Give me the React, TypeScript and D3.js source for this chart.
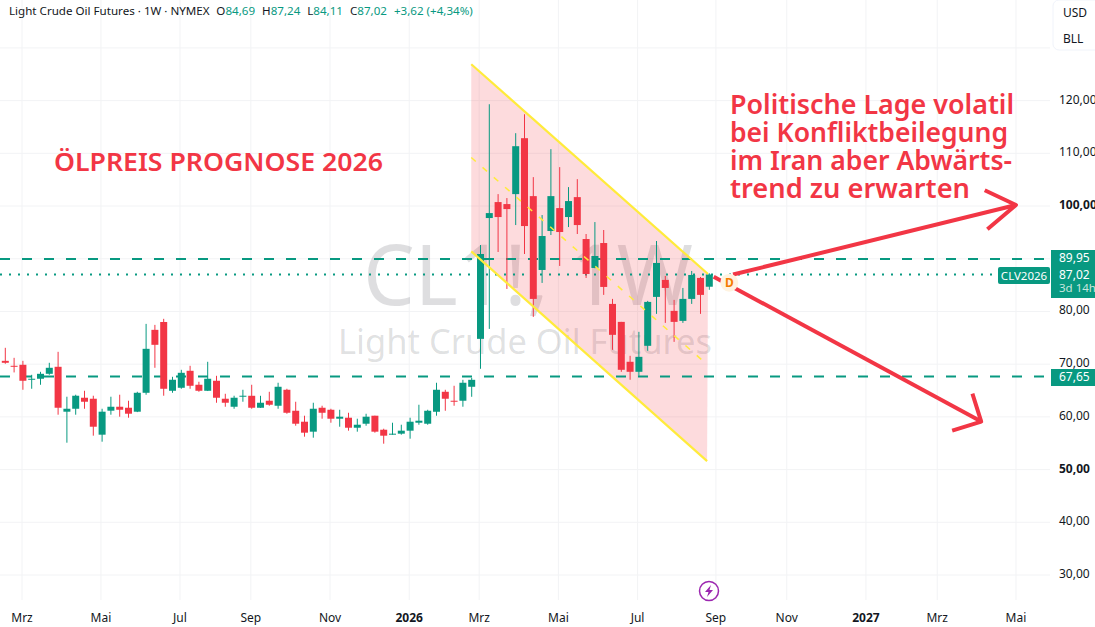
import React from "react";
import * as d3 from "d3";

const W = 1095, H = 627;
const FONT = "'Noto Sans', sans-serif";

// weekly candles, index 0 .. 80
const opens = [70.63,69.69,69.88,67.04,67.23,68.17,69.5,60.98,61.54,63.63,63.44,56.62,61.17,61.92,61.73,60.98,64.57,76.51,78.0,64.95,65.52,68.74,66.09,64.95,66.85,63.44,61.92,63.82,64.0,61.73,63.06,62.11,65.14,61.16,59.08,57.19,61.73,61.35,59.65,59.84,57.94,58.7,60.22,57.56,56.62,56.81,57.38,58.89,58.7,60.97,64.76,63.06,63.06,65.71,74.8,97.72,100.75,100.37,102.26,112.87,101.88,87.87,95.26,99.61,97.91,101.69,93.74,88.25,92.98,81.43,78.02,70.45,68.55,73.48,82.76,85.98,80.11,78.21,82.38,86.36,84.69];
const highs = [73.1,71.2,70.63,67.98,68.55,70.26,72.34,63.82,64.2,64.95,64.01,61.54,63.82,64.2,63.06,64.76,77.64,77.45,78.6,67.6,68.93,69.69,66.66,70.45,67.79,64.38,64.01,65.14,66.09,64.0,64.76,66.47,65.33,62.87,60.22,62.68,62.11,61.54,61.35,60.78,59.65,60.59,60.22,57.75,58.89,58.51,59.84,62.3,61.35,66.47,65.14,65.9,67.03,67.41,92.6,119.31,102.26,101.51,113.82,117.41,105.48,98.29,110.79,107.38,103.59,105.1,94.69,96.96,95.45,82.38,78.02,71.58,76.13,82.0,93.36,86.73,82.19,84.46,87.68,86.54,87.24];
const lows = [70.07,68.43,65.14,65.33,66.09,67.98,60.41,55.1,60.41,61.54,56.43,55.29,60.41,60.03,59.84,60.9,64.2,69.31,64.01,64.57,65.33,65.33,64.76,64.9,62.68,61.92,61.54,62.87,61.54,61.7,62.11,61.54,60.59,58.32,56.24,56.05,59.65,58.89,58.13,57.38,57.19,58.32,57.0,54.91,56.6,56.62,55.86,58.51,58.51,60.22,61.16,62.11,61.92,63.81,69.12,76.69,91.28,84.27,96.39,90.9,78.97,85.41,94.5,88.63,96.01,94.69,86.35,88.2,83.14,72.72,68.55,67.04,67.79,72.53,79.54,77.83,74.23,77.83,81.43,79.54,84.11];
const closes = [70.26,69.5,66.85,67.23,68.17,69.31,61.73,61.54,64.01,62.87,58.13,60.98,61.92,61.35,60.6,64.57,72.91,73.67,65.33,67.04,68.36,65.9,64.95,67.23,63.63,62.68,63.63,64.01,61.73,62.68,62.3,65.71,60.78,58.7,57.0,61.54,60.78,59.65,60.03,57.94,58.51,60.03,57.19,56.43,56.81,57.38,59.08,59.27,61.16,65.14,63.44,62.87,66.47,67.03,90.9,98.66,97.91,99.42,111.35,96.2,82.38,94.31,101.88,95.07,100.94,96.39,87.11,90.52,84.65,75.56,68.93,68.55,71.39,81.81,89.2,84.46,78.02,82.38,86.92,83.14,87.02];

const priceTicks = [30, 40, 50, 60, 70, 80, 90, 100, 110, 120, 130];
const axisPriceLabels = [30, 40, 50, 60, 70, 80, 100, 110, 120];
const boldPrices = [50, 100];
const timeLabels = ["Mrz","Mai","Jul","Sep","Nov","2026","Mrz","Mai","Jul","Sep","Nov","2027","Mrz","Mai"];
const timeIndexes = [1.9,10.87,19.85,27.9,36.9,45.9,53.85,62.85,71.85,80.75,88.8,97.8,105.9,114.85];
const levels = [89.95, 67.65];
const lastPrice = 87.02;

// drawings, in (week index, price)
const channelTop: [number, number][] = [[52.95, 126.9], [79.85, 87.1]];
const channelBottom: [number, number][] = [[52.95, 91.4], [79.75, 51.6]];
const channelMid: [number, number][] = [[52.95, 109.2], [79.5, 70.3]];
const arrowUp: [number, number][] = [[82.7, 87.0], [114.85, 100.2]];
const arrowUpHead: [number, number][] = [[111.3, 103.0], [114.85, 100.2], [111.6, 95.6]];
const arrowDown: [number, number][] = [[80.5, 86.6], [110.9, 59.1]];
const arrowDownHead: [number, number][] = [[109.9, 64.4], [110.9, 59.1], [107.6, 57.4]];
const dividendMark: [number, number] = [82.27, 85.45];
const noteLines = ["Politische Lage volatil", "bei Konfliktbeilegung", "im Iran aber Abwärts-", "trend zu erwarten"];
const noteWidths = [284, 278, 282, 240];

const x = d3.scaleLinear().domain([0, 80]).range([5.3, 709.3]);
const y = d3.scaleLinear().domain([89.95, 30]).range([259, 575]);
const fmt = (v: number) => v.toFixed(2).replace(".", ",");
const RED = "#f23645", TEAL = "#089981", YELLOW = "#ffeb3b", INK = "#131722";
const seg = d3.line<[number, number]>().x(d => x(d[0])).y(d => y(d[1]));

export default function App() {
  const channelPoly = [...channelTop, ...[...channelBottom].reverse()];
  return (
    <svg width={W} height={H} viewBox={`0 0 ${W} ${H}`} fontFamily={FONT}
      style={{ position: "absolute", left: 0, top: 0, background: "#fff" }}>
      {priceTicks.map(p => (
        <line key={p} x1={0} x2={1050} y1={y(p)} y2={y(p)} stroke="#f2f3f5" />
      ))}
      {timeIndexes.map((t, i) => (
        <line key={i} x1={x(t)} x2={x(t)} y1={0} y2={600} stroke="#f2f3f5" />
      ))}
      <text x={363} y={305} fontSize={84} fill="#131722" fillOpacity={0.14}
        textLength={330} lengthAdjust="spacingAndGlyphs">CL1!, 1W</text>
      <text x={338} y={354} fontSize={34} fill="#131722" fillOpacity={0.14}
        textLength={374} lengthAdjust="spacingAndGlyphs">Light Crude Oil Futures</text>

      <path d={(seg(channelPoly) ?? "") + "Z"} fill={RED} fillOpacity={0.18} />
      {levels.map(l => (
        <line key={l} x1={0} x2={1050} y1={y(l)} y2={y(l)} stroke={TEAL} strokeWidth={2} strokeDasharray="10 12" />
      ))}
      <line x1={0} x2={1000} y1={y(lastPrice)} y2={y(lastPrice)} stroke={TEAL} strokeWidth={2} strokeDasharray="2 7" />

      {opens.map((o, i) => {
        const c = closes[i];
        const col = c >= o ? TEAL : RED;
        const top = y(Math.max(o, c));
        const bot = y(Math.min(o, c));
        return (
          <g key={i}>
            <line x1={x(i)} x2={x(i)} y1={y(highs[i])} y2={y(lows[i])} stroke={col} strokeWidth={1} />
            <rect x={x(i) - 3.5} y={top} width={7} height={Math.max(1, bot - top)} fill={col} />
          </g>
        );
      })}

      <path d={seg(channelTop) ?? ""} stroke={YELLOW} strokeWidth={2.2} fill="none" />
      <path d={seg(channelBottom) ?? ""} stroke={YELLOW} strokeWidth={2.2} fill="none" />
      <path d={seg(channelMid) ?? ""} stroke={YELLOW} strokeWidth={1.5} strokeDasharray="6 9" fill="none" />

      {[arrowUp, arrowUpHead, arrowDown, arrowDownHead].map((a, i) => (
        <path key={i} d={seg(a) ?? ""} stroke={RED} strokeWidth={4} fill="none" strokeLinejoin="round" />
      ))}
      <circle cx={x(dividendMark[0])} cy={y(dividendMark[1])} r={9} fill="#fff3e0" />
      <text x={x(dividendMark[0])} y={y(dividendMark[1]) + 4.5} textAnchor="middle" fontSize={12} fontWeight={700} fill="#f57c00">D</text>

      <text x={54} y={171} fontSize={26} fontWeight={600} fill={RED}
        textLength={329} lengthAdjust="spacingAndGlyphs">ÖLPREIS PROGNOSE 2026</text>
      {noteLines.map((t, i) => (
        <text key={i} x={730} y={114 + i * 28} fontSize={26.5} fontWeight={600} fill={RED}
          textLength={noteWidths[i]} lengthAdjust="spacingAndGlyphs">{t}</text>
      ))}

      <text x={9} y={15} fontSize={11.6} fill={INK}>
        Light Crude Oil Futures · 1W · NYMEX
        <tspan dx={7}>O</tspan><tspan fill={TEAL}>{fmt(opens[80])}</tspan>
        <tspan dx={7}>H</tspan><tspan fill={TEAL}>{fmt(highs[80])}</tspan>
        <tspan dx={7}>L</tspan><tspan fill={TEAL}>{fmt(lows[80])}</tspan>
        <tspan dx={7}>C</tspan><tspan fill={TEAL}>{fmt(closes[80])}</tspan>
        <tspan dx={7} fill={TEAL}>+3,62 (+4,34%)</tspan>
      </text>

      <rect x={1053} y={0} width={50} height={50} rx={6} fill="#fff" stroke="#f0f3fa" />
      <text x={1063} y={17} fontSize={12} fill={INK}>USD</text>
      <text x={1063} y={43} fontSize={12} fill={INK}>BLL</text>

      {axisPriceLabels.map(p => (
        <text key={p} x={1059} y={y(p) + 3} fontSize={12} fill={INK}
          fontWeight={boldPrices.includes(p) ? 700 : 400}>{fmt(p)}</text>
      ))}
      <rect x={1051} y={250} width={44} height={48} fill={TEAL} />
      <text x={1059} y={262} fontSize={12} fill="#fff">{fmt(levels[0])}</text>
      <text x={1059} y={279} fontSize={12} fill="#fff">{fmt(lastPrice)}</text>
      <text x={1059} y={292} fontSize={11.5} fill="#c8e6df">3d 14h</text>
      <rect x={1051} y={369} width={44} height={17} fill={TEAL} />
      <text x={1059} y={381} fontSize={12} fill="#fff">{fmt(levels[1])}</text>
      <rect x={998} y={267} width={52} height={17} rx={2} fill={TEAL} />
      <text x={1024} y={279.5} fontSize={11.5} fill="#fff" textAnchor="middle">CLV2026</text>

      <circle cx={709} cy={591} r={9.5} fill="#fff" stroke="#9c27b0" strokeWidth={1.5} />
      <path d="M711 585 L705 592 L708.5 592 L707 597 L713 590 L709.5 590 Z" fill="#9c27b0" />
      {timeLabels.map((t, i) => (
        <text key={i} x={x(timeIndexes[i])} y={622} textAnchor="middle" fontSize={12}
          fontWeight={t.startsWith("20") ? 700 : 400} fill={INK}>{t}</text>
      ))}
    </svg>
  );
}
